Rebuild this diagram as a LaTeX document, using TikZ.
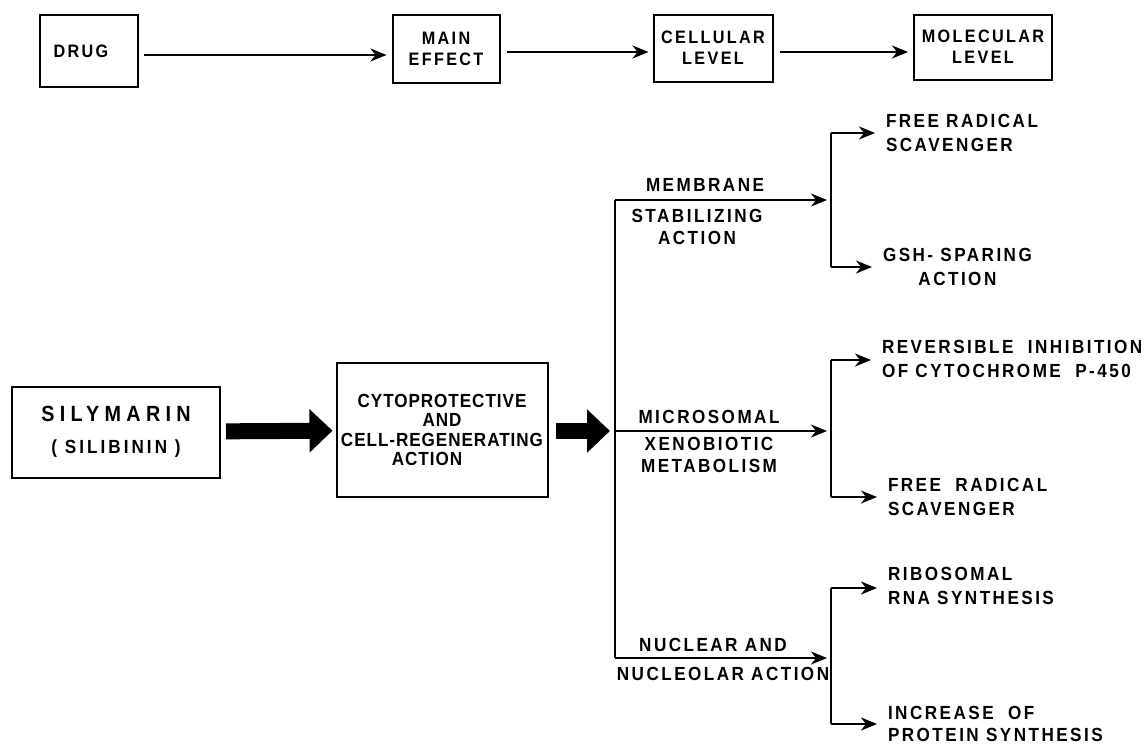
\documentclass[tikz,border=0pt]{standalone}
\usepackage{fontspec}
\setmainfont{Liberation Sans}[LetterSpace=13, FakeStretch=0.9]
\usetikzlibrary{arrows.meta}

\begin{document}
\begin{tikzpicture}[x=1pt, y=1pt, line width=2pt,
    every node/.style={font=\bfseries\fontsize{19}{24}\selectfont, inner sep=0pt},
    box/.style={draw, align=center},
    headbox/.style={box, font=\bfseries\fontsize{18}{21}\selectfont},
    lbl/.style={align=center, font=\bfseries\fontsize{19}{22}\selectfont},
    txt/.style={anchor=west, align=left},
    arr/.style={-{Stealth[length=16pt, width=13pt, inset=5pt]}},
    fatarr/.style={line width=16pt, -{Triangle[length=23pt, width=42pt]}}]
  \useasboundingbox (0,0) rectangle (1147,-747);

  % top row
  \node[headbox, minimum width=98pt, minimum height=72pt] (drug) at (89,-51) {DRUG\hspace*{16pt}};
  \node[headbox, minimum width=107pt, minimum height=68pt] (main) at (446,-49) {MAIN\\EFFECT};
  \node[headbox, minimum width=119pt, minimum height=67pt] (cell) at (713,-48) {CELLULAR\\LEVEL};
  \node[headbox, minimum width=138pt, minimum height=65pt] (mol) at (983,-47) {MOLECULAR\\LEVEL};
  \draw[arr, shorten <=5pt, shorten >=5pt] ([yshift=-4pt]drug.east) -- ([yshift=-6pt]main.west);
  \draw[arr, shorten <=6pt, shorten >=4pt] ([yshift=-3pt]main.east) -- ([yshift=-4pt]cell.west);
  \draw[arr, shorten <=6pt, shorten >=5pt] ([yshift=-4pt]cell.east) -- ([yshift=-5pt]mol.west);

  % silymarin and its main effect
  \node[box, minimum width=208pt, minimum height=91pt,
        font=\bfseries\fontsize{22}{30}\selectfont\addfontfeatures{LetterSpace=24}] (sily) at (116,-432)
        {SILYMARIN\\[2pt]{\fontsize{19}{24}\selectfont\addfontfeatures{LetterSpace=16}( SILIBININ )}};
  \node[box, minimum width=211pt, minimum height=134pt,
        font=\bfseries\fontsize{19}{19.5}\selectfont\addfontfeatures{LetterSpace=5}] (cyto) at (442,-430)
        {CYTOPROTECTIVE\\AND\\CELL-REGENERATING\\ACTION\hspace*{30pt}};
  \draw[fatarr, shorten <=5pt, shorten >=3pt] (sily) -- (cyto);

  % cellular level
  \coordinate (memb) at (615,-200);
  \coordinate (micro) at (615,-431);
  \coordinate (nucl) at (615,-658);
  \draw[fatarr, shorten <=7pt, shorten >=5pt] (cyto.east |- micro) -- (micro);
  \draw (memb) -- (nucl);
  \coordinate (jmemb) at (831,-200);
  \coordinate (jmicro) at (831,-431);
  \coordinate (jnucl) at (831,-658);
  \draw[arr, shorten >=4pt] (memb) -- (jmemb);
  \draw[arr, shorten >=4pt] (micro) -- (jmicro);
  \draw[arr, shorten >=4pt] (nucl) -- (jnucl);

  \node[lbl] (membA) at (705,-185) {MEMBRANE};
  \node[lbl] (membB) at (697,-227) {STABILIZING\\ACTION};
  \node[lbl] (microA) at (709,-417) {MICROSOMAL};
  \node[lbl] (microB) at (709,-455) {XENOBIOTIC\\METABOLISM};
  \node (nuclA) at (713,-645) {NUCLEAR AND};
  \node (nuclB) at (723,-674) {NUCLEOLAR ACTION};

  % molecular level
  \coordinate (m1) at (831,-133);
  \coordinate (m2) at (831,-267);
  \coordinate (x1) at (831,-360);
  \coordinate (x2) at (831,-497);
  \coordinate (n1) at (831,-588);
  \coordinate (n2) at (831,-724);
  \draw (m1) -- (m2);
  \draw (x1) -- (x2);
  \draw (n1) -- (n2);

  \node[txt] (rad1) at (885,-133) {FREE RADICAL\\SCAVENGER};
  \node[txt, align=center] (gsh) at (882,-267) {GSH- SPARING\\ACTION};
  \node[txt] (cyp) at (881,-359) {REVERSIBLE \ INHIBITION\\OF CYTOCHROME \ P-450};
  \node[txt] (rad2) at (887,-497) {FREE \ RADICAL\\SCAVENGER};
  \node[txt] (rna) at (887,-586) {RIBOSOMAL\\RNA SYNTHESIS};
  \node[txt, font=\bfseries\fontsize{19}{22}\selectfont] (prot) at (887,-724) {INCREASE \ OF\\PROTEIN SYNTHESIS};
  \foreach \a/\b in {m1/rad1, m2/gsh, x1/cyp, x2/rad2, n1/rna, n2/prot}
    \draw[arr, shorten >=10pt] (\a) -- (\a -| \b.west);
\end{tikzpicture}
\end{document}
